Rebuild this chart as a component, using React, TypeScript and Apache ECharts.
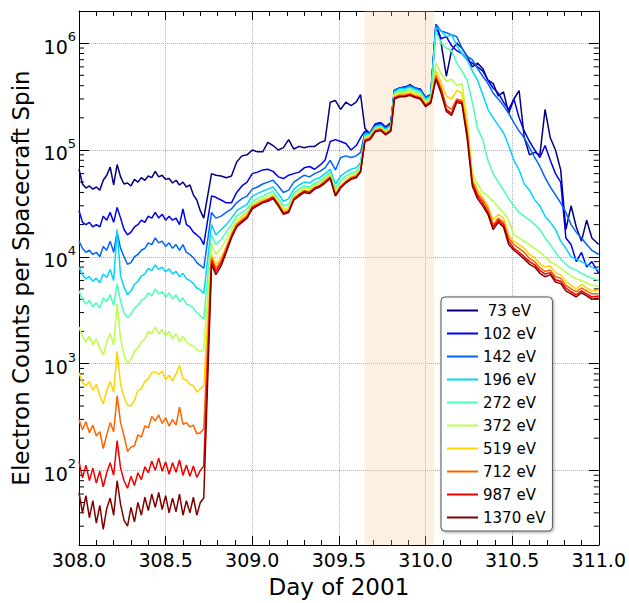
import { useEffect, useRef } from 'react';
import * as echarts from 'echarts';

const FONT = 'DejaVu Sans';

// Day of 2001 (x values shared by all series)
const days = [
  308.00, 308.02, 308.04, 308.06, 308.08, 308.10, 308.12, 308.14, 308.16, 308.18,
  308.20, 308.22, 308.24, 308.26, 308.28, 308.30, 308.32, 308.34, 308.36, 308.38,
  308.40, 308.42, 308.44, 308.46, 308.48, 308.50, 308.52, 308.54, 308.56, 308.58,
  308.60, 308.62, 308.64, 308.66, 308.68, 308.70, 308.72,
  308.765, 308.79, 308.82, 308.85, 308.88, 308.91, 308.94, 308.97, 309.00, 309.03,
  309.06, 309.09, 309.12, 309.15, 309.18, 309.21, 309.24, 309.27, 309.30, 309.33,
  309.36, 309.39, 309.42, 309.45, 309.48, 309.51, 309.54, 309.57, 309.60, 309.625,
  309.65, 309.68, 309.71, 309.74, 309.77, 309.80, 309.82, 309.85, 309.88, 309.91,
  309.94, 309.97, 310.00, 310.03,
  310.06, 310.09, 310.12, 310.15, 310.18, 310.21, 310.24, 310.27, 310.30, 310.33,
  310.36, 310.39, 310.42, 310.45, 310.48, 310.51, 310.54, 310.57, 310.60, 310.63,
  310.66, 310.69, 310.72, 310.75, 310.78, 310.81, 310.84, 310.87, 310.90, 310.93,
  310.96, 311.00,
];

const energies = ['73 eV', '102 eV', '142 eV', '196 eV', '272 eV', '372 eV', '519 eV', '712 eV', '987 eV', '1370 eV'];
const colors = ['#000080', '#0000f1', '#0063ff', '#00d4ff', '#47ffb8', '#b8ff47', '#ffd400', '#ff6300', '#f10000', '#800000'];

const e73 = [
  6.6e4, 4.8e4, 4.4e4, 4.6e4, 4.3e4, 4.5e4, 4.2e4, 5.2e4, 5.8e4, 6.9e4, 4.7e4, 7.3e4, 5.6e4, 4.8e4, 4.9e4, 4.6e4, 5.3e4, 5.0e4, 5.5e4, 5.2e4, 5.7e4, 5.5e4, 6.3e4, 5.6e4, 5.8e4, 5.3e4, 5.4e4, 4.9e4, 5.2e4, 4.7e4, 5.0e4, 4.5e4, 4.7e4, 3.8e4, 3.4e4, 2.7e4, 2.3e4,
  6.0e4, 5.8e4, 5.7e4, 5.5e4, 5.7e4, 7.7e4, 8.8e4, 9.0e4, 1.0e5, 9.6e4, 9.6e4, 1.18e5, 1.1e5, 1.0e5, 1.05e5, 1.25e5, 1.02e5, 1.08e5, 1.05e5, 1.08e5, 1.08e5, 1.17e5, 1.22e5, 2.8e5, 2.9e5, 2.4e5, 2.8e5, 2.6e5, 2.8e5, 3.3e5,
  1.6e5, 1.4e5, 1.75e5, 1.8e5, 1.65e5, 1.8e5, 3.6e5, 3.8e5, 3.8e5, 4.1e5, 3.8e5, 3.7e5, 3.1e5, 3.3e5,
  1.5e6, 1.0e6, 4.9e5, 8.5e5, 1.0e6, 9.0e5, 7.5e5, 6.0e5, 6.5e5, 5.8e5, 4.5e5, 4.2e5, 3.2e5, 3.5e5, 2.2e5, 3.0e5, 3.6e5, 1.3e5, 9.0e4, 9.5e4, 9.0e4, 2.4e5, 1.3e5, 1.0e5, 6.5e4, 1.8e4, 3.0e4, 1.9e4, 1.4e4, 2.2e4, 1.5e4, 1.3e4,
];
const e102 = [
  2.7e4, 2.1e4, 2.0e4, 2.1e4, 1.9e4, 2.0e4, 1.9e4, 2.4e4, 2.2e4, 2.6e4, 2.1e4, 2.9e4, 2.3e4, 1.8e4, 1.6e4, 1.7e4, 1.9e4, 2.0e4, 2.2e4, 2.1e4, 2.4e4, 2.3e4, 2.6e4, 2.3e4, 2.5e4, 2.2e4, 2.4e4, 2.2e4, 2.3e4, 2.0e4, 2.8e4, 2.0e4, 1.9e4, 1.7e4, 1.6e4, 1.5e4, 1.3e4,
  3.7e4, 3.6e4, 3.4e4, 3.2e4, 3.2e4, 4.0e4, 4.6e4, 5.0e4, 6.0e4, 6.2e4, 6.5e4, 6.6e4, 6.3e4, 5.6e4, 5.4e4, 5.8e4, 6.0e4, 6.2e4, 6.8e4, 7.0e4, 6.6e4, 7.2e4, 8.0e4, 1.2e5, 1.25e5, 1.2e5, 1.15e5, 1.0e5, 1.1e5, 1.3e5,
  1.5e5, 1.45e5, 1.75e5, 1.8e5, 1.6e5, 1.8e5, 3.6e5, 3.8e5, 3.9e5, 4.0e5, 3.8e5, 3.7e5, 3.1e5, 3.3e5,
  1.5e6, 1.1e6, 1.15e6, 9.5e5, 8.5e5, 8.0e5, 7.0e5, 6.5e5, 6.0e5, 5.5e5, 4.5e5, 3.8e5, 3.4e5, 2.8e5, 2.4e5, 3.0e5, 2.0e5, 1.5e5, 1.2e5, 1.0e5, 8.5e4, 1.1e5, 8.0e4, 6.0e4, 5.0e4, 1.5e4, 1.3e4, 9.0e3, 1.1e4, 8.0e3, 9.0e3, 7.0e3,
];
const e142 = [
  1.4e4, 1.2e4, 1.1e4, 1.15e4, 1.05e4, 1.1e4, 1.0e4, 1.25e4, 1.15e4, 1.4e4, 1.1e4, 1.7e4, 1.2e4, 1.0e4, 8.5e3, 8.8e3, 1.0e4, 1.05e4, 1.15e4, 1.2e4, 1.35e4, 1.3e4, 1.5e4, 1.35e4, 1.4e4, 1.25e4, 1.35e4, 1.2e4, 1.3e4, 1.15e4, 1.3e4, 1.1e4, 1.05e4, 9.8e3, 8.8e3, 8.3e3, 7.8e3,
  2.6e4, 2.3e4, 2.4e4, 2.6e4, 2.8e4, 3.2e4, 3.5e4, 3.7e4, 4.3e4, 4.5e4, 4.8e4, 5.0e4, 5.2e4, 4.6e4, 4.0e4, 4.2e4, 5.0e4, 5.4e4, 5.8e4, 5.6e4, 6.0e4, 6.3e4, 6.8e4, 8.0e4, 6.5e4, 8.5e4, 8.8e4, 8.5e4, 8.8e4, 9.5e4,
  1.45e5, 1.45e5, 1.7e5, 1.75e5, 1.6e5, 1.75e5, 3.6e5, 3.8e5, 3.85e5, 4.0e5, 3.8e5, 3.65e5, 3.05e5, 3.3e5,
  1.5e6, 1.3e6, 1.25e6, 1.2e6, 1.15e6, 9.0e5, 7.5e5, 7.0e5, 5.8e5, 4.9e5, 4.2e5, 3.4e5, 3.0e5, 2.6e5, 2.2e5, 1.8e5, 1.5e5, 1.3e5, 1.05e5, 8.5e4, 7.0e4, 5.5e4, 4.5e4, 3.8e4, 3.2e4, 2.6e4, 2.0e4, 1.7e4, 1.5e4, 1.3e4, 1.15e4, 1.05e4,
];
const e196 = [
  8.0e3, 6.8e3, 6.2e3, 6.5e3, 5.9e3, 6.3e3, 5.7e3, 6.9e3, 6.4e3, 7.6e3, 6.0e3, 1.8e4, 6.6e3, 5.2e3, 4.4e3, 4.8e3, 5.5e3, 5.9e3, 6.6e3, 6.9e3, 7.8e3, 7.4e3, 8.4e3, 7.6e3, 8.0e3, 7.2e3, 7.7e3, 6.9e3, 7.3e3, 6.5e3, 7.0e3, 6.2e3, 6.0e3, 5.6e3, 5.1e3, 4.9e3, 4.5e3,
  2.0e4, 1.6e4, 1.8e4, 2.0e4, 2.3e4, 2.7e4, 2.9e4, 3.1e4, 3.7e4, 3.9e4, 4.1e4, 4.3e4, 4.5e4, 3.9e4, 3.3e4, 3.5e4, 4.3e4, 4.7e4, 5.0e4, 4.9e4, 5.3e4, 5.5e4, 6.0e4, 6.6e4, 4.8e4, 5.7e4, 6.2e4, 6.6e4, 6.8e4, 7.6e4,
  1.4e5, 1.4e5, 1.65e5, 1.7e5, 1.55e5, 1.7e5, 3.5e5, 3.75e5, 3.75e5, 3.9e5, 3.7e5, 3.55e5, 3.0e5, 3.2e5,
  1.4e6, 1.3e6, 1.15e6, 1.2e6, 9.5e5, 8.0e5, 7.0e5, 5.5e5, 4.5e5, 3.3e5, 2.4e5, 2.0e5, 1.7e5, 1.45e5, 1.1e5, 8.0e4, 6.5e4, 4.8e4, 4.2e4, 3.4e4, 3.0e4, 2.4e4, 2.1e4, 1.8e4, 1.4e4, 1.2e4, 1.0e4, 9.5e3, 9.0e3, 8.5e3, 8.0e3, 7.5e3,
];
const e272 = [
  4.8e3, 4.0e3, 3.6e3, 3.9e3, 3.4e3, 3.7e3, 3.3e3, 4.1e3, 3.8e3, 4.4e3, 3.5e3, 5.6e3, 3.8e3, 3.0e3, 2.7e3, 2.9e3, 3.3e3, 3.5e3, 3.9e3, 4.1e3, 4.6e3, 4.3e3, 5.0e3, 4.5e3, 4.7e3, 4.2e3, 4.6e3, 4.0e3, 4.4e3, 3.8e3, 4.1e3, 3.6e3, 3.5e3, 3.3e3, 3.0e3, 2.8e3, 2.6e3,
  1.6e4, 1.3e4, 1.45e4, 1.7e4, 2.0e4, 2.4e4, 2.6e4, 2.8e4, 3.3e4, 3.5e4, 3.7e4, 3.9e4, 4.1e4, 3.5e4, 3.0e4, 3.1e4, 3.9e4, 4.3e4, 4.6e4, 4.5e4, 4.9e4, 5.1e4, 5.6e4, 6.2e4, 4.4e4, 5.2e4, 5.7e4, 6.1e4, 6.3e4, 7.1e4,
  1.35e5, 1.38e5, 1.62e5, 1.66e5, 1.52e5, 1.66e5, 3.4e5, 3.6e5, 3.6e5, 3.75e5, 3.6e5, 3.45e5, 2.9e5, 3.1e5,
  1.3e6, 1.0e6, 9.0e5, 8.5e5, 6.5e5, 5.5e5, 4.5e5, 2.8e5, 1.6e5, 1.25e5, 8.0e4, 6.0e4, 5.0e4, 4.2e4, 3.5e4, 3.0e4, 2.6e4, 2.4e4, 2.2e4, 2.0e4, 1.8e4, 1.5e4, 1.3e4, 1.1e4, 9.5e3, 8.5e3, 7.8e3, 7.5e3, 7.0e3, 6.6e3, 6.3e3, 6.0e3,
];
const e372 = [
  2.2e3, 1.8e3, 1.6e3, 1.8e3, 1.5e3, 1.7e3, 1.4e3, 1.2e3, 1.6e3, 1.9e3, 1.5e3, 3.6e3, 1.7e3, 1.2e3, 1.0e3, 1.1e3, 1.3e3, 1.4e3, 1.6e3, 1.7e3, 2.0e3, 1.9e3, 2.2e3, 1.9e3, 2.1e3, 1.8e3, 2.0e3, 1.7e3, 1.9e3, 1.6e3, 1.8e3, 1.6e3, 1.5e3, 1.45e3, 1.35e3, 1.3e3, 1.35e3,
  1.3e4, 1.05e4, 1.2e4, 1.45e4, 1.8e4, 2.2e4, 2.4e4, 2.6e4, 3.1e4, 3.3e4, 3.5e4, 3.65e4, 3.85e4, 3.3e4, 2.8e4, 2.9e4, 3.7e4, 4.1e4, 4.4e4, 4.3e4, 4.7e4, 4.9e4, 5.4e4, 5.9e4, 4.1e4, 4.9e4, 5.4e4, 5.8e4, 6.0e4, 6.8e4,
  1.3e5, 1.35e5, 1.58e5, 1.63e5, 1.48e5, 1.62e5, 3.3e5, 3.45e5, 3.45e5, 3.6e5, 3.45e5, 3.3e5, 2.8e5, 3.0e5,
  6.5e5, 5.2e5, 4.4e5, 4.6e5, 4.0e5, 4.2e5, 2.0e5, 6.0e4, 4.8e4, 4.0e4, 3.7e4, 3.3e4, 2.9e4, 2.6e4, 2.2e4, 1.6e4, 1.5e4, 1.4e4, 1.3e4, 1.2e4, 1.1e4, 1.0e4, 9.0e3, 8.4e3, 7.8e3, 7.2e3, 6.6e3, 6.2e3, 6.0e3, 5.7e3, 5.4e3, 5.3e3,
];
const e519 = [
  820, 660, 620, 680, 560, 640, 500, 420, 560, 680, 540, 1300, 640, 480, 410, 400, 450, 560, 580, 680, 720, 820, 840, 790, 850, 700, 780, 690, 800, 960, 720, 700, 640, 620, 540, 580, 620,
  1.05e4, 8.5e3, 9.8e3, 1.25e4, 1.65e4, 2.05e4, 2.3e4, 2.5e4, 3.0e4, 3.2e4, 3.4e4, 3.5e4, 3.7e4, 3.2e4, 2.7e4, 2.8e4, 3.6e4, 3.9e4, 4.2e4, 4.1e4, 4.5e4, 4.7e4, 5.2e4, 5.7e4, 3.9e4, 4.6e4, 5.1e4, 5.6e4, 5.8e4, 6.5e4,
  1.27e5, 1.32e5, 1.55e5, 1.6e5, 1.45e5, 1.58e5, 3.2e5, 3.35e5, 3.35e5, 3.45e5, 3.3e5, 3.2e5, 2.7e5, 2.9e5,
  5.5e5, 4.3e5, 3.2e5, 3.0e5, 3.6e5, 3.4e5, 1.7e5, 5.5e4, 4.2e4, 3.6e4, 3.0e4, 2.2e4, 2.5e4, 2.3e4, 1.6e4, 1.4e4, 1.3e4, 1.2e4, 1.05e4, 9.8e3, 8.6e3, 8.0e3, 8.2e3, 7.1e3, 6.8e3, 5.9e3, 5.4e3, 5.0e3, 5.5e3, 5.1e3, 4.8e3, 4.8e3,
];
const e712 = [
  300, 240, 285, 225, 265, 210, 230, 160, 215, 280, 230, 500, 280, 210, 150, 165, 170, 215, 205, 260, 250, 320, 290, 330, 275, 310, 260, 300, 265, 390, 270, 280, 255, 265, 220, 225, 245,
  9.8e3, 7.8e3, 9.2e3, 1.2e4, 1.6e4, 2.0e4, 2.2e4, 2.4e4, 2.95e4, 3.1e4, 3.3e4, 3.45e4, 3.65e4, 3.1e4, 2.6e4, 2.7e4, 3.5e4, 3.85e4, 4.15e4, 4.05e4, 4.45e4, 4.65e4, 5.1e4, 5.6e4, 3.8e4, 4.55e4, 5.05e4, 5.5e4, 5.7e4, 6.4e4,
  1.25e5, 1.3e5, 1.53e5, 1.57e5, 1.43e5, 1.55e5, 3.1e5, 3.25e5, 3.25e5, 3.35e5, 3.2e5, 3.1e5, 2.65e5, 2.85e5,
  5.0e5, 3.8e5, 2.6e5, 2.4e5, 3.0e5, 2.9e5, 1.5e5, 5.1e4, 3.9e4, 3.4e4, 2.8e4, 2.0e4, 2.3e4, 2.1e4, 1.5e4, 1.3e4, 1.2e4, 1.1e4, 9.6e3, 9.0e3, 7.9e3, 7.3e3, 7.5e3, 6.5e3, 6.3e3, 5.4e3, 5.0e3, 4.7e3, 5.1e3, 4.8e3, 4.5e3, 4.5e3,
];
const e987 = [
  120, 85, 112, 80, 105, 76, 98, 70, 95, 118, 90, 190, 105, 80, 68, 88, 72, 95, 82, 108, 95, 122, 100, 130, 98, 120, 92, 118, 96, 125, 90, 112, 88, 110, 86, 100, 110,
  9.2e3, 7.3e3, 8.7e3, 1.15e4, 1.55e4, 1.95e4, 2.15e4, 2.35e4, 2.9e4, 3.05e4, 3.25e4, 3.4e4, 3.6e4, 3.05e4, 2.55e4, 2.65e4, 3.45e4, 3.8e4, 4.1e4, 4.0e4, 4.4e4, 4.6e4, 5.0e4, 5.5e4, 3.75e4, 4.5e4, 5.0e4, 5.4e4, 5.6e4, 6.3e4,
  1.22e5, 1.28e5, 1.5e5, 1.55e5, 1.4e5, 1.52e5, 3.05e5, 3.2e5, 3.2e5, 3.3e5, 3.15e5, 3.05e5, 2.6e5, 2.8e5,
  4.7e5, 3.6e5, 2.4e5, 2.2e5, 2.9e5, 2.8e5, 1.4e5, 4.9e4, 3.7e4, 3.2e4, 2.6e4, 1.9e4, 2.2e4, 2.0e4, 1.4e4, 1.2e4, 1.1e4, 1.0e4, 9.0e3, 8.4e3, 7.4e3, 6.9e3, 7.1e3, 6.1e3, 5.9e3, 5.1e3, 4.7e3, 4.4e3, 4.8e3, 4.5e3, 4.2e3, 4.3e3,
];
const e1370 = [
  62, 40, 58, 36, 52, 32, 47, 28, 44, 55, 38, 80, 48, 34, 30, 45, 33, 50, 38, 56, 42, 60, 45, 62, 43, 58, 40, 55, 41, 60, 38, 52, 40, 56, 38, 50, 55,
  8.5e3, 6.8e3, 8.2e3, 1.1e4, 1.5e4, 1.9e4, 2.1e4, 2.3e4, 2.8e4, 3.0e4, 3.2e4, 3.3e4, 3.5e4, 3.0e4, 2.5e4, 2.6e4, 3.4e4, 3.7e4, 4.0e4, 3.9e4, 4.3e4, 4.5e4, 4.9e4, 5.4e4, 3.7e4, 4.4e4, 4.9e4, 5.3e4, 5.5e4, 6.2e4,
  1.2e5, 1.25e5, 1.48e5, 1.52e5, 1.38e5, 1.5e5, 3.0e5, 3.15e5, 3.15e5, 3.25e5, 3.1e5, 3.0e5, 2.55e5, 2.75e5,
  4.6e5, 3.4e5, 2.3e5, 2.1e5, 2.8e5, 2.7e5, 1.3e5, 4.6e4, 3.5e4, 3.0e4, 2.5e4, 1.8e4, 2.1e4, 1.9e4, 1.3e4, 1.15e4, 1.05e4, 9.5e3, 8.5e3, 8.0e3, 7.0e3, 6.5e3, 6.8e3, 5.8e3, 5.6e3, 4.8e3, 4.5e3, 4.2e3, 4.6e3, 4.3e3, 4.0e3, 4.1e3,
];

const seriesValues = [e73, e102, e142, e196, e272, e372, e519, e712, e987, e1370];

// shaded interval (day of 2001)
const shadeStart = 309.648;
const shadeEnd = 310.05;

// axis ranges
const xMin = 308.0;
const xMax = 311.0;
const yMin = 20;
const yMax = 2e6;

export default function App() {
  const ref = useRef<HTMLDivElement>(null);

  useEffect(() => {
    if (!ref.current) return;
    const chart = echarts.init(ref.current, null, { renderer: 'svg' });

    const minorVals: number[] = [];
    for (let p = 1; p <= 6; p++) {
      for (let k = 2; k <= 9; k++) {
        const v = k * Math.pow(10, p);
        if (v > yMin && v < yMax) minorVals.push(v);
      }
    }

    const lineSeries: any[] = energies.map((name, i) => ({
      name,
      type: 'line',
      data: days.map((d, j) => [d, seriesValues[i][j]]),
      symbol: 'none',
      showSymbol: false,
      lineStyle: { width: 1.5, color: colors[i] },
      itemStyle: { color: colors[i] },
      animation: false,
      ...(i === 0
        ? {
            markArea: {
              silent: true,
              itemStyle: { color: 'rgba(247, 196, 150, 0.28)' },
              data: [[{ xAxis: shadeStart }, { xAxis: shadeEnd }]],
            },
          }
        : {}),
    }));

    const tickSeries = {
      type: 'custom',
      silent: true,
      animation: false,
      clip: false,
      data: minorVals.map((v) => [xMin, v]),
      renderItem: (params: any, api: any) => {
        const y = api.coord([xMin, api.value(1)])[1];
        const cs = params.coordSys;
        return {
          type: 'group',
          children: [
            { type: 'line', shape: { x1: cs.x, y1: y, x2: cs.x + 5, y2: y }, style: { stroke: '#000', lineWidth: 1 } },
            { type: 'line', shape: { x1: cs.x + cs.width - 5, y1: y, x2: cs.x + cs.width, y2: y }, style: { stroke: '#000', lineWidth: 1 } },
          ],
        };
      },
    };

    const gridLine = { show: true, lineStyle: { color: '#b0b0b0', type: 'dotted', width: 1 } };

    const option: any = {
      animation: false,
      backgroundColor: '#fff',
      textStyle: { fontFamily: FONT },
      grid: { left: 79, right: 28, top: 11, bottom: 55, containLabel: false },
      xAxis: [
        {
          type: 'value',
          min: xMin,
          max: xMax,
          interval: 0.5,
          position: 'bottom',
          axisLine: { show: true, lineStyle: { color: '#000', width: 1 } },
          axisTick: { show: true, inside: true, length: 9, lineStyle: { color: '#000' } },
          minorTick: { show: true, splitNumber: 5, length: 5, lineStyle: { color: '#000' } },
          splitLine: gridLine,
          axisLabel: { fontSize: 19, color: '#000', fontFamily: FONT, margin: 5, formatter: (v: number) => v.toFixed(1) },
          name: 'Day of 2001',
          nameLocation: 'middle',
          nameGap: 30,
          nameTextStyle: { fontSize: 23, color: '#000', fontFamily: FONT },
        },
        {
          type: 'value',
          min: xMin,
          max: xMax,
          interval: 0.5,
          position: 'top',
          axisLine: { show: true, onZero: false, lineStyle: { color: '#000', width: 1 } },
          axisTick: { show: true, inside: true, length: 9, lineStyle: { color: '#000' } },
          minorTick: { show: true, splitNumber: 5, length: 5, lineStyle: { color: '#000' } },
          splitLine: { show: false },
          axisLabel: { show: false },
        },
      ],
      yAxis: [
        {
          type: 'log',
          logBase: 10,
          min: yMin,
          max: yMax,
          position: 'left',
          axisLine: { show: true, onZero: false, lineStyle: { color: '#000', width: 1 } },
          axisTick: { show: true, inside: true, length: 10, lineStyle: { color: '#000' } },
          splitLine: gridLine,
          axisLabel: {
            margin: 3,
            showMinLabel: false,
            showMaxLabel: false,
            formatter: (v: number) => `{b|10}{s|${Math.round(Math.log10(v))}}`,
            rich: {
              b: { fontSize: 19, color: '#000', fontFamily: FONT, lineHeight: 26, verticalAlign: 'bottom' },
              s: { fontSize: 13, color: '#000', fontFamily: FONT, lineHeight: 13, verticalAlign: 'top' },
            },
          },
          name: 'Electron Counts per Spacecraft Spin',
          nameLocation: 'middle',
          nameGap: 40,
          nameTextStyle: { fontSize: 23, color: '#000', fontFamily: FONT },
        },
        {
          type: 'log',
          logBase: 10,
          min: yMin,
          max: yMax,
          position: 'right',
          axisLine: { show: true, onZero: false, lineStyle: { color: '#000', width: 1 } },
          axisTick: { show: true, inside: true, length: 10, lineStyle: { color: '#000' } },
          splitLine: { show: false },
          axisLabel: { show: false },
        },
      ],
      legend: {
        data: energies.map((n) => ({ name: n, icon: 'rect' })),
        orient: 'vertical',
        left: 441,
        top: 297,
        itemWidth: 31,
        itemHeight: 2,
        itemGap: 8,
        padding: [6, 7, 6, 6],
        selectedMode: false,
        backgroundColor: '#fff',
        borderColor: '#555',
        borderWidth: 1,
        borderRadius: 4,
        shadowBlur: 3,
        shadowColor: 'rgba(0,0,0,0.35)',
        shadowOffsetX: 1,
        shadowOffsetY: 1,
        textStyle: { fontSize: 15, color: '#000', fontFamily: FONT, lineHeight: 15 },
        formatter: (n: string) => (n === '73 eV' ? '\u00a073 eV' : n),
      },
      series: [...lineSeries, tickSeries],
    };

    chart.setOption(option);
    return () => chart.dispose();
  }, []);

  return <div ref={ref} style={{ position: 'absolute', left: 0, top: 0, width: 629, height: 603 }} />;
}
